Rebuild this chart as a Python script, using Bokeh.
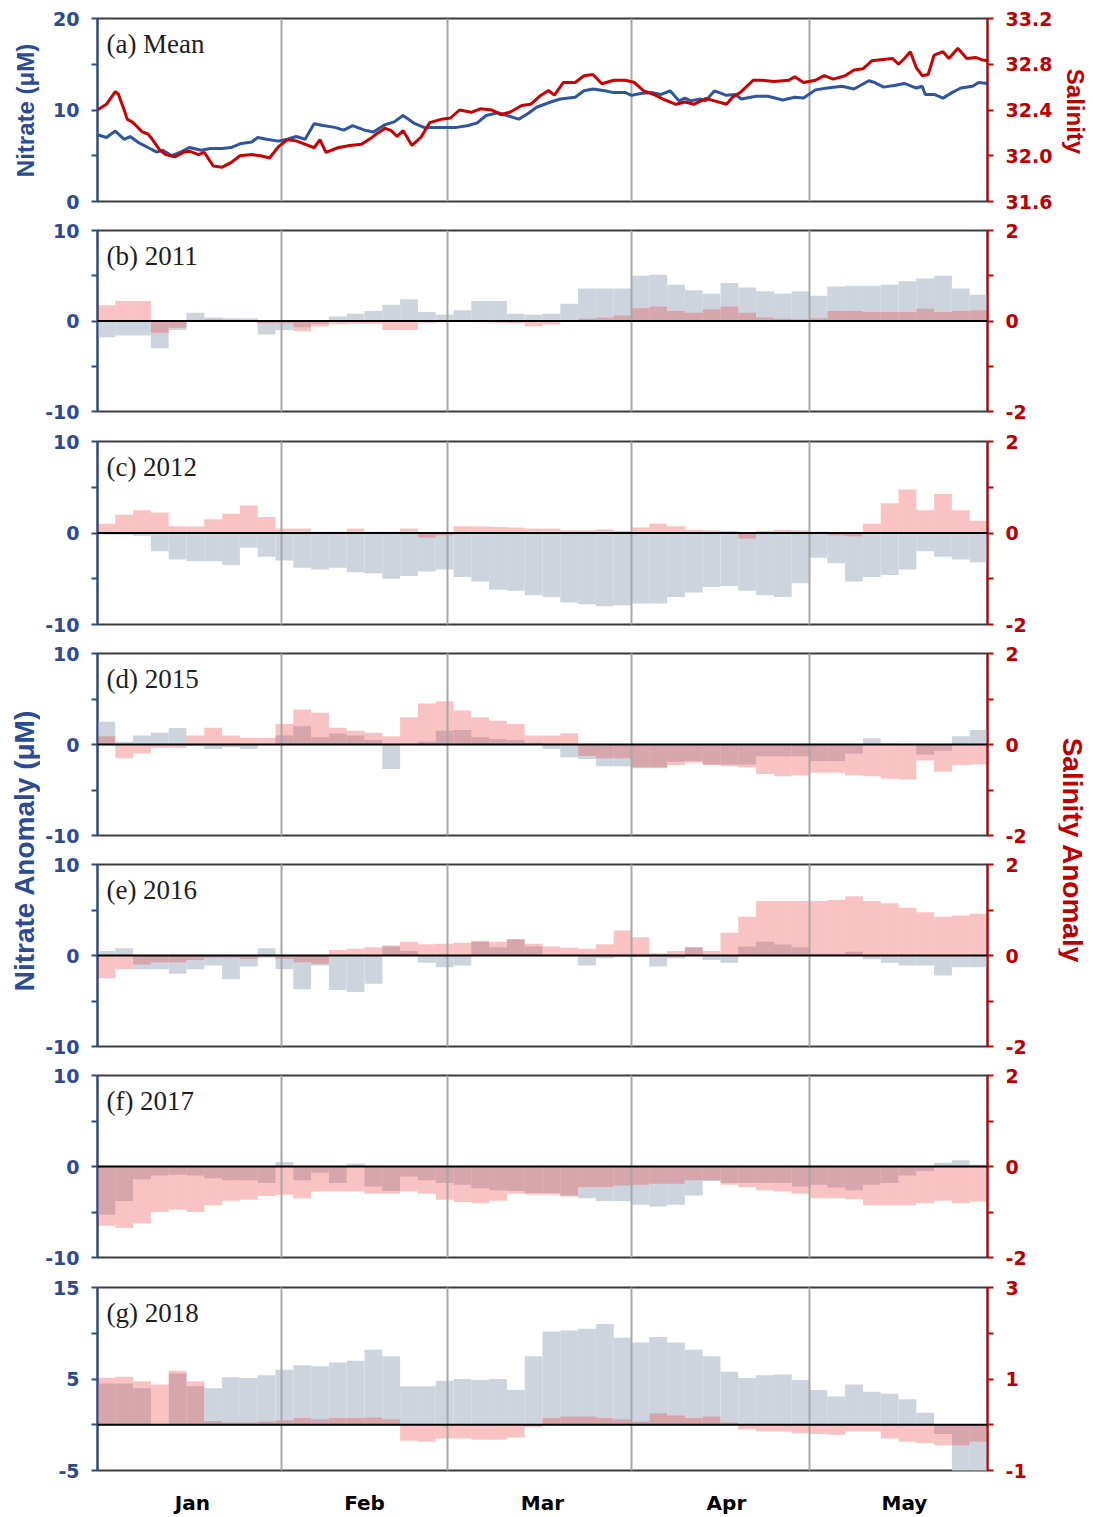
from bokeh.plotting import figure
from bokeh.models import Range1d, LinearAxis, FixedTicker, Span, Label, NumeralTickFormatter
from bokeh.layouts import row, column
from bokeh.embed import file_html
from bokeh.resources import INLINE

# ---------------- data ----------------
months = ["Jan", "Feb", "Mar", "Apr", "May"]
month_mid_day = [16, 45, 75, 106, 136]
month_start_day = [31, 59, 90, 120]

# climatological mean (day of year counted from 1 Jan = 0)
mean_no3_day = [0, 1.5, 3, 4.5, 5.5, 7, 8.5, 10, 11, 12.5, 14, 15.5, 17.5, 19, 21, 22.5, 24, 26,
                27, 28.5, 30.5, 32, 33.5, 35, 36.5, 38, 40, 41.5, 43, 45, 46.5, 48.5, 50, 51.5,
                53.5, 55, 57, 58.5, 60.5, 62.5, 64, 65.5, 67.5, 69, 71, 72.5, 74, 76.5, 78, 80.5,
                82, 83.5, 85.5, 87, 89, 90, 91.5, 93.5, 95, 96.5, 98, 99, 100, 101.5, 102.5, 104,
                106, 107.5, 108.5, 111, 113, 115.5, 117.5, 119, 121, 123, 125.5, 127.5, 130, 131,
                132.5, 134.5, 136, 138, 139, 139.5, 141, 142.5, 144, 145.5, 147.5, 148.5, 150]
mean_no3 = [7.3, 7.0, 7.7, 6.8, 7.1, 6.4, 5.9, 5.4, 5.6, 5.0, 5.4, 5.9, 5.6, 5.8, 5.8, 5.9, 6.3, 6.5,
            7.0, 6.8, 6.6, 6.8, 7.1, 6.8, 8.5, 8.3, 8.1, 7.8, 8.3, 7.8, 7.6, 8.4, 8.7, 9.4,
            8.5, 8.1, 8.1, 8.1, 8.1, 8.3, 8.6, 9.4, 9.7, 9.4, 9.0, 9.6, 10.3, 10.9, 11.2, 11.4,
            12.1, 12.3, 12.1, 11.9, 11.9, 11.6, 11.8, 11.9, 11.7, 12.1, 11.0, 11.3, 11.0, 11.2, 11.0, 12.1,
            11.6, 11.7, 11.2, 11.5, 11.5, 11.1, 11.4, 11.3, 12.2, 12.4, 12.6, 12.3, 13.2, 13.0,
            12.5, 12.7, 12.9, 12.4, 12.6, 11.7, 11.7, 11.3, 11.9, 12.4, 12.6, 13.0, 12.9]

mean_sal_day = [0, 1.5, 3, 3.5, 4.5, 5, 6, 7.5, 8.5, 9, 10.5, 11.5, 13, 14.5, 15.5, 17, 18, 19.5,
                21, 22.5, 24, 26, 27.5, 29, 30.5, 32, 33.5, 35.5, 36.5, 37.5, 38.5, 40.5, 42.5,
                44.5, 46, 47, 48.5, 49.5, 50.5, 51.5, 53, 54.5, 56, 58, 59.5, 61, 63, 64.5, 66.5,
                68, 69.5, 71.5, 73, 74.5, 76, 77, 78.5, 80.5, 82, 83.5, 85, 87, 89, 90.5, 92, 94,
                95.5, 97.5, 99, 100.5, 102.5, 104, 106, 107, 108.5, 110.5, 112, 114, 116.5, 117.5,
                119, 121, 122.5, 124, 126, 127.5, 129, 130.5, 132, 134, 135, 136, 137, 138, 139,
                140, 141, 142.5, 143.5, 145, 146.5, 148, 149, 150]
mean_sal = [32.40, 32.45, 32.56, 32.54, 32.40, 32.32, 32.29, 32.21, 32.19, 32.16, 32.05, 32.01,
            31.99, 32.03, 32.04, 32.01, 32.03, 31.91, 31.90, 31.94, 32.00, 32.01, 32.00, 31.98,
            32.08, 32.14, 32.13, 32.09, 32.07, 32.14, 32.03, 32.07, 32.09, 32.10, 32.15, 32.19,
            32.24, 32.22, 32.17, 32.22, 32.09, 32.16, 32.29, 32.32, 32.33, 32.40, 32.38, 32.41,
            32.40, 32.36, 32.38, 32.44, 32.45, 32.52, 32.57, 32.53, 32.64, 32.64, 32.70, 32.71,
            32.63, 32.66, 32.66, 32.64, 32.57, 32.53, 32.49, 32.45, 32.47, 32.45, 32.50, 32.48,
            32.45, 32.51, 32.56, 32.66, 32.66, 32.65, 32.66, 32.69, 32.64, 32.66, 32.70, 32.67,
            32.70, 32.75, 32.76, 32.83, 32.84, 32.85, 32.80, 32.85, 32.91, 32.77, 32.70, 32.71,
            32.88, 32.91, 32.85, 32.94, 32.85, 32.86, 32.84, 32.83]

# anomalies in 3-day bins starting 1 Jan
bin_start_day = list(range(0, 150, 3))

no3_2011 = [-1.8, -1.6, -1.6, -3.0, -1.0, 0.9, 0.4, 0.3, 0.3, -1.5, -1.0, -0.7, -0.3, 0.5, 0.8, 1.1, 1.8,
            2.4, 1.0, 0.7, 1.2, 2.2, 2.2, 0.8, 0.7, 0.8, 1.9, 3.6, 3.6, 3.6, 5.0, 5.1, 4.0, 3.4, 3.0,
            4.2, 3.7, 3.3, 3.0, 3.3, 2.8, 3.8, 3.9, 3.9, 4.0, 4.4, 4.7, 5.0, 3.6, 2.9]
sal_2011 = [0.35, 0.44, 0.44, -0.26, -0.15, 0.03, 0.04, 0.03, -0.02, -0.05, -0.05, -0.22, -0.12,
            -0.07, -0.06, -0.06, -0.2, -0.2, -0.04, -0.03, -0.02, -0.03, -0.04, -0.05, -0.12, -0.08,
            0.0, 0.05, 0.07, 0.12, 0.28, 0.32, 0.22, 0.18, 0.26, 0.32, 0.18, 0.08, 0.05, 0.04, 0.06,
            0.22, 0.22, 0.2, 0.2, 0.2, 0.27, 0.2, 0.22, 0.24]

no3_2012 = [-0.2, -0.2, -0.3, -2.0, -2.9, -3.1, -3.1, -3.5, -1.6, -2.6, -3.0, -3.8, -4.0, -3.8, -4.3,
            -4.4, -5.0, -4.7, -4.2, -4.0, -4.8, -5.3, -6.2, -6.3, -6.8, -7.0, -7.6, -7.8, -8.0, -7.9,
            -7.7, -7.7, -7.0, -6.5, -5.9, -5.8, -6.3, -6.8, -7.0, -5.5, -2.7, -3.3, -5.3, -4.8, -4.6,
            -4.0, -2.0, -2.6, -2.9, -3.2]
sal_2012 = [0.2, 0.4, 0.5, 0.45, 0.15, 0.14, 0.3, 0.42, 0.6, 0.35, 0.1, 0.1, 0.03, 0.03, 0.1, 0.03,
            0.03, 0.1, -0.1, -0.05, 0.15, 0.14, 0.13, 0.12, 0.1, 0.1, 0.06, 0.06, 0.08, 0.05, 0.12,
            0.2, 0.15, 0.07, 0.06, 0.05, -0.12, 0.05, 0.07, 0.06, 0.03, -0.05, -0.07, 0.2, 0.65,
            0.95, 0.5, 0.85, 0.5, 0.27]

no3_2015 = [2.5, 0.3, 1.0, 1.3, 1.8, -0.2, -0.5, -0.3, -0.5, 0.0, 1.0, 2.0, 0.8, 1.2, 1.0, 0.5, -2.7,
            0.0, 0.3, 1.5, 1.6, 0.8, 0.6, 0.5, 0.2, -0.5, -1.4, -1.6, -2.4, -2.4, -2.6, -2.6, -1.9,
            -1.8, -2.2, -2.2, -2.2, -1.3, -1.3, -1.3, -1.8, -1.8, -1.0, 0.7, 0.1, 0.0, -1.1, -0.7,
            0.9, 1.6]
sal_2015 = [0.18, -0.3, -0.2, -0.07, -0.07, 0.2, 0.37, 0.2, 0.15, 0.15, 0.45, 0.77, 0.7, 0.37, 0.3,
            0.26, 0.18, 0.6, 0.9, 0.95, 0.75, 0.6, 0.52, 0.45, 0.2, 0.2, 0.25, -0.25, -0.3, -0.3,
            -0.5, -0.5, -0.45, -0.4, -0.45, -0.48, -0.5, -0.65, -0.7, -0.68, -0.62, -0.62, -0.68,
            -0.7, -0.75, -0.77, -0.35, -0.6, -0.45, -0.44]

no3_2016 = [0.5, 0.8, -1.5, -1.5, -2.0, -1.5, -1.1, -2.6, -1.2, 0.8, -1.5, -3.7, -1.1, -3.8, -4.0,
            -3.1, 1.0, 0.5, -0.8, -1.3, -1.1, 1.6, 0.9, 1.8, 1.0, 0.0, 0.0, -1.1, -0.3, -0.2, -0.2,
            -1.2, -0.3, 0.9, -0.5, -0.8, 1.0, 1.5, 1.2, 0.9, 0.2, 0.2, 0.4, -0.4, -0.8, -1.1, -1.1,
            -2.2, -1.3, -1.3]
sal_2016 = [-0.5, -0.3, -0.2, -0.15, -0.15, -0.1, -0.05, -0.05, -0.07, -0.05, -0.07, -0.15, -0.18,
            0.12, 0.15, 0.18, 0.22, 0.3, 0.25, 0.26, 0.28, 0.3, 0.3, 0.35, 0.26, 0.2, 0.17, 0.15,
            0.25, 0.55, 0.4, 0.05, 0.1, 0.18, 0.1, 0.5, 0.85, 1.2, 1.2, 1.2, 1.2, 1.22, 1.3, 1.2,
            1.15, 1.05, 0.95, 0.85, 0.88, 0.92]

no3_2017 = [-5.3, -3.8, -1.4, -1.0, -0.9, -1.0, -1.3, -1.5, -1.5, -1.8, 0.5, -1.5, -0.7, -1.8, 0.3,
            -2.2, -2.7, -1.1, -1.5, -1.8, -2.0, -2.4, -2.6, -2.7, -2.9, -2.9, -3.2, -3.5, -3.8, -3.8,
            -4.2, -4.4, -4.2, -3.2, -1.6, -1.8, -1.8, -1.8, -1.8, -2.2, -2.0, -2.3, -2.6, -2.0, -1.8,
            -1.0, -0.5, 0.4, 0.7, 0.2]
sal_2017 = [-1.3, -1.35, -1.25, -1.0, -0.95, -1.0, -0.85, -0.75, -0.73, -0.65, -0.62, -0.7, -0.55,
            -0.55, -0.55, -0.6, -0.6, -0.55, -0.6, -0.73, -0.78, -0.8, -0.75, -0.6, -0.62, -0.62,
            -0.66, -0.45, -0.45, -0.42, -0.4, -0.38, -0.38, -0.3, -0.3, -0.4, -0.45, -0.52, -0.55,
            -0.6, -0.7, -0.7, -0.72, -0.85, -0.85, -0.85, -0.8, -0.75, -0.8, -0.77]

no3_2018 = [4.5, 4.5, 4.0, 0.0, 5.6, 4.2, 4.0, 5.2, 5.1, 5.4, 6.0, 6.5, 6.4, 6.8, 7.0, 8.2, 7.5, 4.2,
            4.2, 4.8, 5.0, 4.9, 5.0, 3.8, 7.5, 10.2, 10.3, 10.5, 11.0, 9.5, 9.0, 9.6, 9.0, 8.2, 7.5,
            5.8, 5.1, 5.4, 5.5, 4.9, 3.8, 3.1, 4.4, 3.6, 3.4, 2.8, 1.3, -1.0, -6.0, -6.0]
sal_2018 = [1.03, 1.05, 0.95, 0.88, 1.18, 0.95, 0.08, 0.05, 0.05, 0.07, 0.1, 0.15, 0.12, 0.15, 0.15,
            0.16, 0.12, -0.35, -0.37, -0.3, -0.3, -0.33, -0.33, -0.28, -0.05, 0.15, 0.18, 0.18, 0.15,
            0.12, 0.07, 0.25, 0.2, 0.15, 0.18, 0.05, -0.1, -0.15, -0.15, -0.18, -0.2, -0.22, -0.15,
            -0.15, -0.3, -0.37, -0.4, -0.44, -0.45, -0.37]

# ---------------- styling ----------------
NO3_BLUE = "#2b4c95"
NO3_LINE = "#2e55a0"
SAL_RED = "#c00000"
SAL_LINE = "#cc0000"
FRAME = "#3c3c3c"
GRID = "#a8a8a8"
NO3_FILL = "#cdd4de"
SAL_FILL = "#ee3737"
TICK_FONT = "DejaVu Sans"
TITLE_FONT = "Liberation Serif"
LABEL_FONT = "Liberation Sans"

PANEL_W = 1018
BIN_W = 3


def style_axis(ax, color, ticks):
    ax.axis_line_color = color
    ax.axis_line_width = 2
    ax.major_tick_line_color = color
    ax.major_tick_line_width = 2
    ax.major_tick_in = 0
    ax.major_tick_out = 6
    ax.minor_tick_line_color = color
    ax.minor_tick_line_width = 2
    ax.minor_tick_in = 0
    ax.minor_tick_out = 6
    ax.major_label_text_color = color
    ax.major_label_text_font = TICK_FONT
    ax.major_label_text_font_size = "19px"
    ax.major_label_text_font_style = "bold"
    ax.major_label_standoff = 12
    # plain hyphen for negative tick labels
    ax.major_label_overrides = {t: "-%g" % abs(t) for t in ticks if t < 0}


def make_panel(title, height, top, bottom, no3_rng, sal_rng, no3_major, no3_minor,
               sal_major, sal_minor, months_axis=False):
    p = figure(width=PANEL_W, height=height, output_backend="svg", toolbar_location=None,
               x_range=Range1d(0, 150), y_range=Range1d(*no3_rng),
               x_axis_location="below" if months_axis else None,
               min_border_left=57, min_border_right=71,
               min_border_top=top, min_border_bottom=bottom)
    p.extra_y_ranges = {"sal": Range1d(*sal_rng)}
    p.background_fill_color = "white"
    p.border_fill_color = "white"
    p.outline_line_color = FRAME
    p.outline_line_width = 2
    p.ygrid.visible = False
    p.xgrid.ticker = FixedTicker(ticks=month_start_day)
    p.xgrid.grid_line_color = GRID
    p.xgrid.grid_line_width = 2

    yl = p.yaxis[0]
    yl.ticker = FixedTicker(ticks=no3_major, minor_ticks=no3_minor)
    style_axis(yl, NO3_BLUE, no3_major)

    yr = LinearAxis(y_range_name="sal",
                    ticker=FixedTicker(ticks=sal_major, minor_ticks=sal_minor))
    style_axis(yr, SAL_RED, sal_major)
    p.add_layout(yr, "right")

    if months_axis:
        xa = p.xaxis[0]
        xa.ticker = FixedTicker(ticks=month_mid_day)
        xa.major_label_overrides = {d: m for d, m in zip(month_mid_day, months)}
        xa.axis_line_color = None
        xa.major_tick_line_color = None
        xa.minor_tick_line_color = None
        xa.major_label_text_font = TICK_FONT
        xa.major_label_text_font_size = "20px"
        xa.major_label_text_font_style = "bold"
        xa.major_label_text_color = "black"
        xa.major_label_standoff = 14

    frame_h = height - top - bottom
    span = no3_rng[1] - no3_rng[0]
    p.add_layout(Label(x=1.5, y=no3_rng[1] - 25 * span / frame_h, text=title,
                       text_font=TITLE_FONT, text_font_size="27px",
                       text_baseline="middle", text_align="left", text_color="#1e1e1e"))
    return p


def anomaly_panel(title, height, top, bottom, no3, sal, no3_rng=(-10, 10), sal_rng=(-2, 2),
                  no3_major=(-10, 0, 10), no3_minor=(-5, 5), sal_major=(-2, 0, 2),
                  sal_minor=(-1, 1), months_axis=False):
    p = make_panel(title, height, top, bottom, no3_rng, sal_rng, list(no3_major),
                   list(no3_minor), list(sal_major), list(sal_minor), months_axis)
    centers = [d + BIN_W / 2 for d in bin_start_day]
    p.vbar(x=centers, width=BIN_W, top=no3, bottom=0,
           fill_color=NO3_FILL, line_color=None)
    p.vbar(x=centers, width=BIN_W, top=sal, bottom=0, y_range_name="sal",
           fill_color=SAL_FILL, fill_alpha=0.3, line_color=None)
    p.xgrid.level = "annotation"
    p.add_layout(Span(location=0, dimension="width", line_color="black", line_width=2))
    return p


# (a) mean fields
pa = make_panel("(a) Mean", 215, 18, 14, (0, 20), (31.6, 33.2), [0, 10, 20], [5, 15],
                [31.6, 32.0, 32.4, 32.8, 33.2], [])
pa.right[0].formatter = NumeralTickFormatter(format="0.0")
pa.line(mean_no3_day, mean_no3, line_color=NO3_LINE, line_width=3)
pa.line(mean_sal_day, mean_sal, line_color=SAL_LINE, line_width=3, y_range_name="sal")

pb = anomaly_panel("(b) 2011", 211, 15, 15, no3_2011, sal_2011)
pc = anomaly_panel("(c) 2012", 212, 15, 14, no3_2012, sal_2012)
pd_ = anomaly_panel("(d) 2015", 211, 15, 14, no3_2015, sal_2015)
pe = anomaly_panel("(e) 2016", 211, 15, 14, no3_2016, sal_2016)
pf = anomaly_panel("(f) 2017", 212, 15, 15, no3_2017, sal_2017)
pg = anomaly_panel("(g) 2018", 245, 15, 47, no3_2018, sal_2018,
                   no3_rng=(-5, 15), sal_rng=(-1, 3), no3_major=(-5, 5, 15),
                   no3_minor=(0, 10), sal_major=(-1, 1, 3), sal_minor=(0, 2),
                   months_axis=True)


def strip(width):
    s = figure(width=width, height=1517, output_backend="svg", toolbar_location=None,
               x_range=Range1d(0, width), y_range=Range1d(1517, 0),
               x_axis_location=None, y_axis_location=None, min_border=0)
    s.outline_line_color = None
    s.grid.visible = False
    s.background_fill_color = "white"
    s.border_fill_color = "white"
    return s


def side_label(s, x, y, text, angle, color, size):
    s.add_layout(Label(x=x, y=y, text=text, angle=angle, angle_units="deg",
                       text_align="center", text_baseline="middle", text_color=color,
                       text_font=LABEL_FONT, text_font_size=size, text_font_style="bold"))


left = strip(40)
side_label(left, 25, 110, "Nitrate (μM)", 90, NO3_BLUE, "24px")
side_label(left, 24, 850, "Nitrate Anomaly (μM)", 90, NO3_BLUE, "28px")

right = strip(35)
side_label(right, 17, 111, "Salinity", -90, SAL_RED, "24px")
side_label(right, 14, 850, "Salinity Anomaly", -90, SAL_RED, "28px")

layout = row(left, column(pa, pb, pc, pd_, pe, pf, pg), right)

with open("out.html", "w") as fh:
    fh.write(file_html(layout, INLINE, title="Nitrate and salinity"))
